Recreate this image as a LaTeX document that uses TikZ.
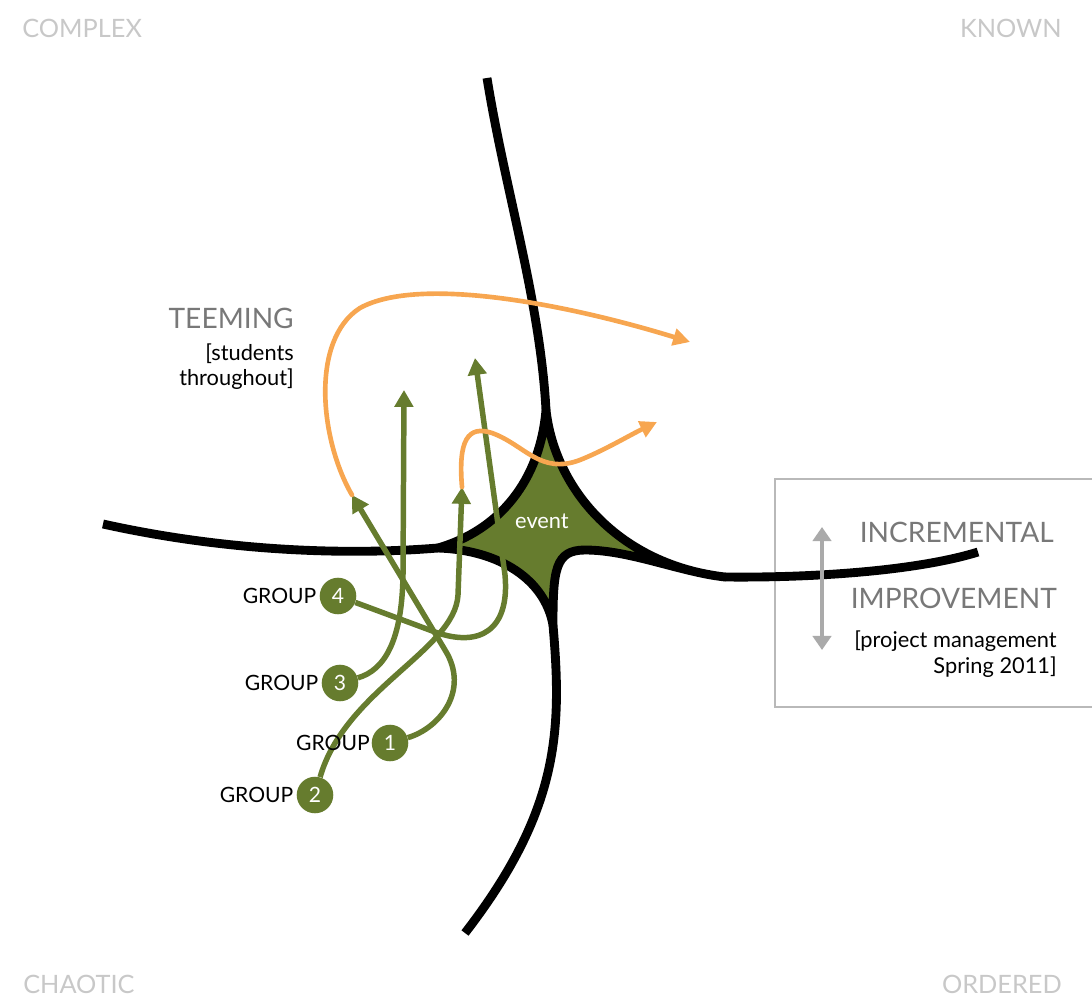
\documentclass[tikz,border=0pt]{standalone}
\usepackage{fontspec}
\setmainfont{Lato}
\usepackage{tikz}
\usetikzlibrary{arrows.meta,positioning}
\definecolor{leafgreen}{RGB}{102,124,46}
\definecolor{amber}{RGB}{247,166,80}
\definecolor{fadegray}{RGB}{200,200,200}
\definecolor{labelgray}{RGB}{120,120,120}
\definecolor{boxgray}{RGB}{185,185,185}
\definecolor{arrowgray}{RGB}{170,170,170}
\tikzset{%
  groupnode/.style  = {circle, fill=leafgreen, text=white, inner sep=0pt,%
                       minimum size=26pt, font=\fontsize{15}{18}\selectfont},%
  grouplabel/.style = {inner sep=1pt, font=\fontsize{15}{18}\selectfont},%
  ripple/.style     = {draw=leafgreen, line width=3.9pt,%
                       -{Triangle[length=12pt,width=13pt]}},%
  drift/.style      = {draw=amber, line width=3.3pt, line cap=round,%
                       -{Triangle[length=12pt,width=12pt]}},%
  seam/.style       = {draw=black, line width=6.3pt, line join=round},%
  corner/.style     = {text=fadegray, inner sep=0pt, font=\fontsize{18}{20}\selectfont},%
  heading/.style    = {text=labelgray, inner sep=0pt, font=\fontsize{20}{24}\selectfont},%
  note/.style       = {text=black, inner sep=0pt, font=\fontsize{15.5}{18}\selectfont},%
  boxline/.style    = {draw=boxgray, line width=0.8pt},%
  updown/.style     = {draw=arrowgray, line width=3.4pt,%
                       {Triangle[length=10pt,width=13pt]}-{Triangle[length=10pt,width=13pt]}}%
}
\begin{document}
\begin{tikzpicture}[x=0.025cm,y=-0.025cm]
  \useasboundingbox (0,0) rectangle (1092,998);
  \node[corner, anchor=base west] (complex) at (22,38)   {COMPLEX};
  \node[corner, anchor=base east] (known)   at (1062,38) {KNOWN};
  \node[corner, anchor=base west] (chaotic) at (23,993)  {CHAOTIC};
  \node[corner, anchor=base east] (ordered) at (1062,993) {ORDERED};

  \coordinate (ctop)   at (546,410);
  \coordinate (cleft)  at (438,548);
  \coordinate (cright) at (725,577);
  \coordinate (cbot)   at (553,625);
  \coordinate (etop)   at (487,78);
  \coordinate (eleft)  at (103,524);
  \coordinate (eright) at (978,552);
  \coordinate (ebot)   at (465,933);

  \draw[boxline] (1095,479) -| (775,707) -- (1095,707);

  \filldraw[seam, fill=leafgreen] (ctop) .. controls (540,480) and (500,530) .. (cleft)
    .. controls (500,550) and (545,580) .. (cbot)
    .. controls (553,570) and (555,550) .. (585,550)
    .. controls (630,550) and (680,572) .. (cright)
    .. controls (620,565) and (555,490) .. cycle;
  \draw[seam] (ctop) .. controls (540,300) and (505,190) .. (etop);
  \draw[seam] (cleft) .. controls (340,556) and (220,550) .. (eleft);
  \draw[seam] (cright) .. controls (820,578) and (920,570) .. (eright);
  \draw[seam] (cbot) .. controls (562,730) and (560,810) .. (ebot);
  \node[note, text=white, anchor=base] (event) at (542,528) {event};

  \node[groupnode] (g4) at (338,596) {4};
  \node[groupnode] (g3) at (340,683) {3};
  \node[groupnode] (g1) at (390,743) {1};
  \node[groupnode] (g2) at (315,795) {2};
  \coordinate (t4) at (475,358);
  \coordinate (t3) at (404,390);
  \coordinate (t1) at (352,495);
  \coordinate (t2) at (462,487);
  \draw[ripple] (g4) -- (435,632) .. controls (480,648) and (510,630) .. (505,575) -- (t4);
  \draw[ripple] (g3) .. controls (385,670) and (402,640) .. (403,575) -- (t3);
  \draw[ripple] (g1) .. controls (440,728) and (470,690) .. (445,650) -- (t1);
  \draw[ripple] (g2) .. controls (345,690) and (455,650) .. (458,595) -- (t2);

  \coordinate (o1) at (690,342);
  \coordinate (o2) at (657,422);
  \draw[drift] (t1) .. controls (320,440) and (310,340) .. (360,308)
    .. controls (420,275) and (570,305) .. (o1);
  \draw[drift] (t2) .. controls (458,440) and (468,425) .. (492,433)
    .. controls (525,445) and (540,475) .. (580,460)
    .. controls (605,450) and (630,435) .. (o2);

  \node[grouplabel, left=1pt of g4] (l4) {GROUP};
  \node[grouplabel, left=1pt of g3] (l3) {GROUP};
  \node[grouplabel, left=0pt of g1] (l1) {GROUP};
  \node[grouplabel, left=1pt of g2] (l2) {GROUP};

  \node[heading, anchor=base east] (teeming) at (294,328) {TEEMING};
  \node[note, anchor=base east] (students) at (294,360) {[students};
  \node[note, anchor=base east] (through)  at (294,385) {throughout]};

  \coordinate (up)   at (822,527);
  \coordinate (down) at (822,650);
  \draw[updown] (up) -- (down);
  \node[heading, anchor=base east] (incr)   at (1054,542) {INCREMENTAL};
  \node[heading, anchor=base east] (improv) at (1057,608) {IMPROVEMENT};
  \node[note, anchor=base east] (project) at (1057,647) {[project management};
  \node[note, anchor=base east] (spring)  at (1057,673) {Spring 2011]};
\end{tikzpicture}
\end{document}
